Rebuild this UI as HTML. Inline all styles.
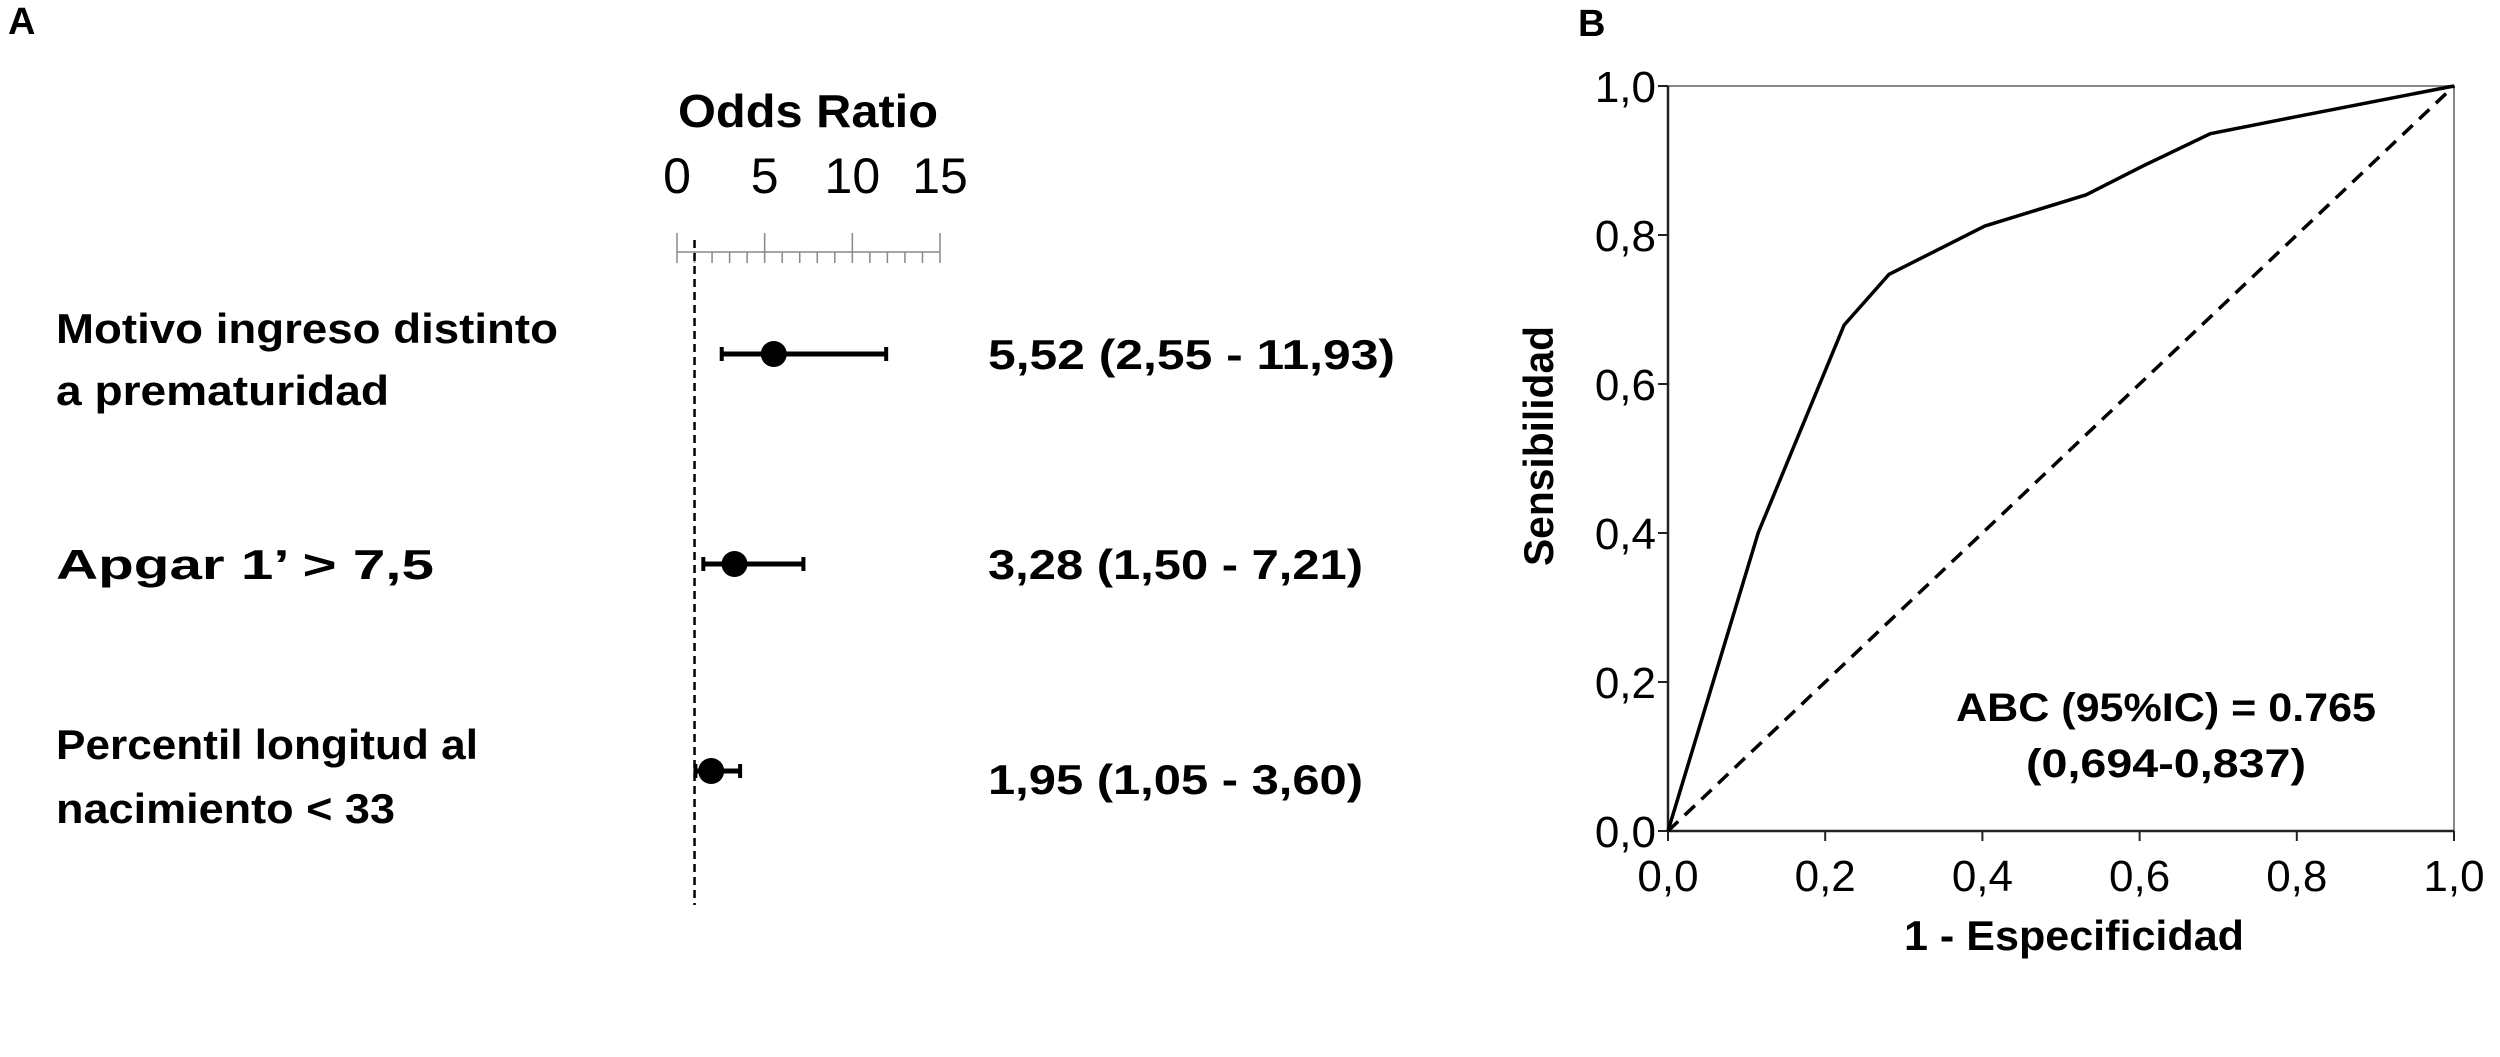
<!DOCTYPE html>
<html><head><meta charset="utf-8"><style>
html,body{margin:0;padding:0;background:#fff}
svg{display:block}
text{font-family:"Liberation Sans",sans-serif;fill:#000}
.b{font-weight:bold}
</style></head><body>
<svg id="fig" width="2500" height="1057" viewBox="0 0 2500 1057" xmlns="http://www.w3.org/2000/svg">
<text x="8" y="34" class="b" font-size="38">A</text>
<text x="1578" y="36" class="b" font-size="38">B</text>
<g id="forest"></g>
<g id="roc"></g>
</svg>
<script>
const NS="http://www.w3.org/2000/svg";
// ---- Forest plot data ----
const orLabels1=["Motivo ingreso distinto","Apgar 1’ > 7,5","Percentil longitud al"];
const orLabels2=["a prematuridad","","nacimiento < 33"];
const orValues=[5.52,3.28,1.95];
const orLow=[2.55,1.50,1.05];
const orHigh=[11.93,7.21,3.60];
const orText=["5,52 (2,55 - 11,93)","3,28 (1,50 - 7,21)","1,95 (1,05 - 3,60)"];
const orTicks=[0,5,10,15];
// ---- ROC data ----
const rocX=[0,0.115,0.224,0.281,0.403,0.532,0.605,0.690,0.800,1.0];
const rocY=[0,0.401,0.679,0.747,0.812,0.854,0.893,0.936,0.959,1.0];
const rocTicks=[0,0.2,0.4,0.6,0.8,1.0];
const rocTickLabels=["0,0","0,2","0,4","0,6","0,8","1,0"];

function mk(tag,attrs,parent,txt){const e=document.createElementNS(NS,tag);for(const k in attrs)e.setAttribute(k,attrs[k]);if(txt!==undefined)e.textContent=txt;parent.appendChild(e);return e;}

// Forest
const F=document.getElementById('forest');
const fx=v=>677+v*(940-677)/15;
const rowY=[354,564,771];
let t=mk('text',{x:808,y:127,'text-anchor':'middle','font-size':46,class:'b',textLength:260,lengthAdjust:'spacingAndGlyphs'},F,'Odds Ratio');


mk('line',{x1:fx(0),x2:fx(15),y1:252,y2:252,stroke:'#888','stroke-width':1.5},F);
for(let v=0;v<=15;v++){const major=v%5===0;
 mk('line',{x1:fx(v),x2:fx(v),y1:major?233:252,y2:263,stroke:'#888','stroke-width':1.5},F);}
orTicks.forEach(v=>{const e=mk('text',{x:fx(v),y:193,'text-anchor':'middle','font-size':50},F,String(v));
 
 });
let d=mk('line',{x1:fx(1),x2:fx(1),y1:240,y2:905,stroke:'#000','stroke-width':2.5,'stroke-dasharray':'8,5'},F);


const lab1Y=[343,579,759],lab2Y=[405,0,823],lab1W=[502,378,422],lab2W=[333,0,339],valW=[407,375,375],valY=[369,579,794];
orValues.forEach((v,i)=>{const y=rowY[i];
 const g=mk('g',{},F);
 
 
 mk('line',{x1:fx(orLow[i]),x2:fx(orHigh[i]),y1:y,y2:y,stroke:'#000','stroke-width':5},g);
 mk('line',{x1:fx(orLow[i]),x2:fx(orLow[i]),y1:y-7,y2:y+7,stroke:'#000','stroke-width':4},g);
 mk('line',{x1:fx(orHigh[i]),x2:fx(orHigh[i]),y1:y-7,y2:y+7,stroke:'#000','stroke-width':4},g);
 mk('circle',{cx:fx(v),cy:y,r:13,fill:'#000'},g);
 mk('text',{x:56,y:lab1Y[i],'font-size':42,class:'b',textLength:lab1W[i],lengthAdjust:'spacingAndGlyphs'},g,orLabels1[i]);
 if(orLabels2[i])mk('text',{x:56,y:lab2Y[i],'font-size':42,class:'b',textLength:lab2W[i],lengthAdjust:'spacingAndGlyphs'},g,orLabels2[i]);
 mk('text',{x:988,y:valY[i],'font-size':42,class:'b',textLength:valW[i],lengthAdjust:'spacingAndGlyphs'},g,orText[i]);
});

// ROC
const R=document.getElementById('roc');
const X0=1668,X1=2454,Y0=831,Y1=86;
const rx=v=>X0+v*(X1-X0), ry=v=>Y0-v*(Y0-Y1);
let b=mk('rect',{x:X0,y:Y1,width:X1-X0,height:Y0-Y1,fill:'none',stroke:'#888','stroke-width':2},R);


mk('line',{x1:X0,x2:X0,y1:Y1,y2:Y0,stroke:'#222','stroke-width':2.5},R);
mk('line',{x1:X0,x2:X1,y1:Y0,y2:Y0,stroke:'#222','stroke-width':2.5},R);
rocTicks.forEach((v,i)=>{
 mk('line',{x1:X0-10,x2:X0,y1:ry(v),y2:ry(v),stroke:'#222','stroke-width':2},R);
 mk('line',{x1:rx(v),x2:rx(v),y1:Y0,y2:Y0+10,stroke:'#222','stroke-width':2},R);
 const a=mk('text',{x:X0-12,y:ry(v)+16,'text-anchor':'end','font-size':44},R,rocTickLabels[i]);
 
 
 const c=mk('text',{x:rx(v),y:Y0+60,'text-anchor':'middle','font-size':44},R,rocTickLabels[i]);
 
 
});
let dg=mk('line',{x1:rx(0),y1:ry(0),x2:rx(1),y2:ry(1),stroke:'#000','stroke-width':3.5,'stroke-dasharray':'14,9'},R);


let p=mk('polyline',{points:rocX.map((x,i)=>rx(x)+','+ry(rocY[i])).join(' '),fill:'none',stroke:'#000','stroke-width':3.5,'stroke-linejoin':'round'},R);


let xt=mk('text',{x:2074,y:950,'text-anchor':'middle','font-size':42,class:'b',textLength:340,lengthAdjust:'spacingAndGlyphs'},R,'1 - Especificidad');


let yt=mk('text',{x:0,y:0,'text-anchor':'middle','font-size':42,class:'b',transform:'translate(1553,446) rotate(-90)',textLength:240,lengthAdjust:'spacingAndGlyphs'},R,'Sensibilidad');


let a1=mk('text',{x:2166,y:721,'text-anchor':'middle','font-size':40,class:'b',textLength:420,lengthAdjust:'spacingAndGlyphs'},R,'ABC (95%IC) = 0.765');


let a2=mk('text',{x:2166,y:777,'text-anchor':'middle','font-size':40,class:'b',textLength:280,lengthAdjust:'spacingAndGlyphs'},R,'(0,694-0,837)');


</script>
</body></html>
